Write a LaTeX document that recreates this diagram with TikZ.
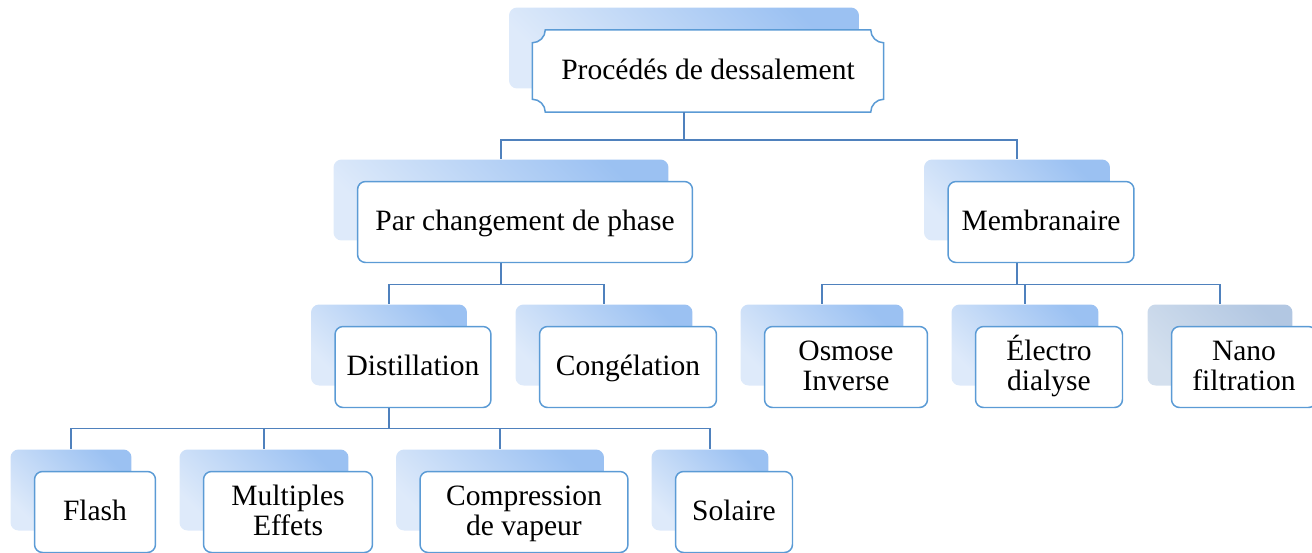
\documentclass[tikz,border=0pt]{standalone}
\usepackage{fontspec}
\setmainfont{Liberation Serif}
\usetikzlibrary{backgrounds}
\definecolor{trait}{RGB}{79,129,189}
\definecolor{bord}{RGB}{91,155,213}
\definecolor{ombreclair}{RGB}{222,234,250}
\definecolor{ombrefonce}{RGB}{155,193,242}
\definecolor{grisclair}{RGB}{212,224,238}
\definecolor{grisfonce}{RGB}{178,199,226}
\tikzset{
  ombre/.style={rectangle, rounded corners=0.16cm, inner sep=0pt, minimum height=1.62cm,
    top color=ombrefonce, bottom color=ombreclair, shading angle=-45},
  ombregris/.style={ombre, top color=grisfonce, bottom color=grisclair, shading angle=-45},
  boite/.style={rectangle, draw=bord, line width=0.85pt, fill=white, rounded corners=0.16cm,
    inner sep=0pt, minimum height=1.62cm, align=center, font=\fontsize{16.8pt}{17pt}\selectfont,
    text height=16.4pt, text depth=6.6pt},
  deux/.style={boite, text height=33.4pt},
  haut/.style={boite, draw=none, fill=none},
  lien/.style={draw=trait, line width=0.85pt}
}
\begin{document}
\begin{tikzpicture}[x=0.02cm, y=-0.02cm]
  \useasboundingbox (0,0) rectangle (1312,552);
  % racine
  \node[haut, minimum width=7cm] (top) at (708,71) {Procédés de dessalement};
  \begin{scope}[on background layer]
    \node[ombre, minimum width=7cm] (topsh) at (684,48) {};
    \draw[draw=bord, line width=0.85pt, fill=white]
      ([xshift=0.26cm]top.north west) -- ([xshift=-0.26cm]top.north east)
      arc[start angle=180, end angle=270, radius=0.26cm] -- ([yshift=0.26cm]top.south east)
      arc[start angle=90, end angle=180, radius=0.26cm] -- ([xshift=0.26cm]top.south west)
      arc[start angle=0, end angle=90, radius=0.26cm] -- ([yshift=-0.26cm]top.north west)
      arc[start angle=270, end angle=360, radius=0.26cm] -- cycle;
  \end{scope}
  % niveau 2
  \node[ombre, minimum width=6.7cm] (parsh) at (501,200) {};
  \node[boite, minimum width=6.7cm] (par) at (525,222) {Par changement de phase};
  \node[ombre, minimum width=3.72cm] (membsh) at (1017,200) {};
  \node[boite, minimum width=3.72cm] (memb) at (1041,222) {Membranaire};
  % niveau 3
  \node[ombre, minimum width=3.12cm] (distsh) at (389,345) {};
  \node[boite, minimum width=3.12cm] (dist) at (413,367) {Distillation};
  \node[ombre, minimum width=3.54cm] (congsh) at (604,345) {};
  \node[boite, minimum width=3.54cm] (cong) at (628,367) {Congélation};
  \node[ombre, minimum width=3.26cm] (osmsh) at (822,345) {};
  \node[deux, minimum width=3.26cm] (osm) at (846,367) {Osmose\\Inverse};
  \node[ombre, minimum width=2.94cm] (elecsh) at (1025,345) {};
  \node[deux, minimum width=2.94cm] (elec) at (1049,367) {Électro\\dialyse};
  \node[ombregris, minimum width=2.9cm] (nanosh) at (1220,345) {};
  \node[deux, minimum width=2.9cm] (nano) at (1244,367) {Nano\\filtration};
  % niveau 4
  \node[ombre, minimum width=2.42cm] (flashsh) at (71,490) {};
  \node[boite, minimum width=2.42cm] (flash) at (95,512) {Flash};
  \node[ombre, minimum width=3.38cm] (multsh) at (264,490) {};
  \node[deux, minimum width=3.38cm] (mult) at (288,512) {Multiples\\Effets};
  \node[ombre, minimum width=4.16cm] (compsh) at (500,490) {};
  \node[deux, minimum width=4.16cm] (comp) at (524,512) {Compression\\de vapeur};
  \node[ombre, minimum width=2.34cm] (solsh) at (710,490) {};
  \node[boite, minimum width=2.34cm] (sol) at (734,512) {Solaire};
  % liens
  \draw[lien] (top.south -| topsh.center) -- ++(0,28) -| (parsh.north);
  \draw[lien] (top.south -| topsh.center) -- ++(0,28) -| (membsh.north);
  \draw[lien] (par.south -| parsh.center) -- ++(0,21) -| (distsh.north);
  \draw[lien] (par.south -| parsh.center) -- ++(0,21) -| (congsh.north);
  \draw[lien] (memb.south -| membsh.center) -- ++(0,21) -| (osmsh.north);
  \draw[lien] (memb.south -| membsh.center) -- ++(0,21) -| (elecsh.north);
  \draw[lien] (memb.south -| membsh.center) -- ++(0,21) -| (nanosh.north);
  \draw[lien] (dist.south -| distsh.center) -- ++(0,20) -| (flashsh.north);
  \draw[lien] (dist.south -| distsh.center) -- ++(0,20) -| (multsh.north);
  \draw[lien] (dist.south -| distsh.center) -- ++(0,20) -| (compsh.north);
  \draw[lien] (dist.south -| distsh.center) -- ++(0,20) -| (solsh.north);
\end{tikzpicture}
\end{document}
